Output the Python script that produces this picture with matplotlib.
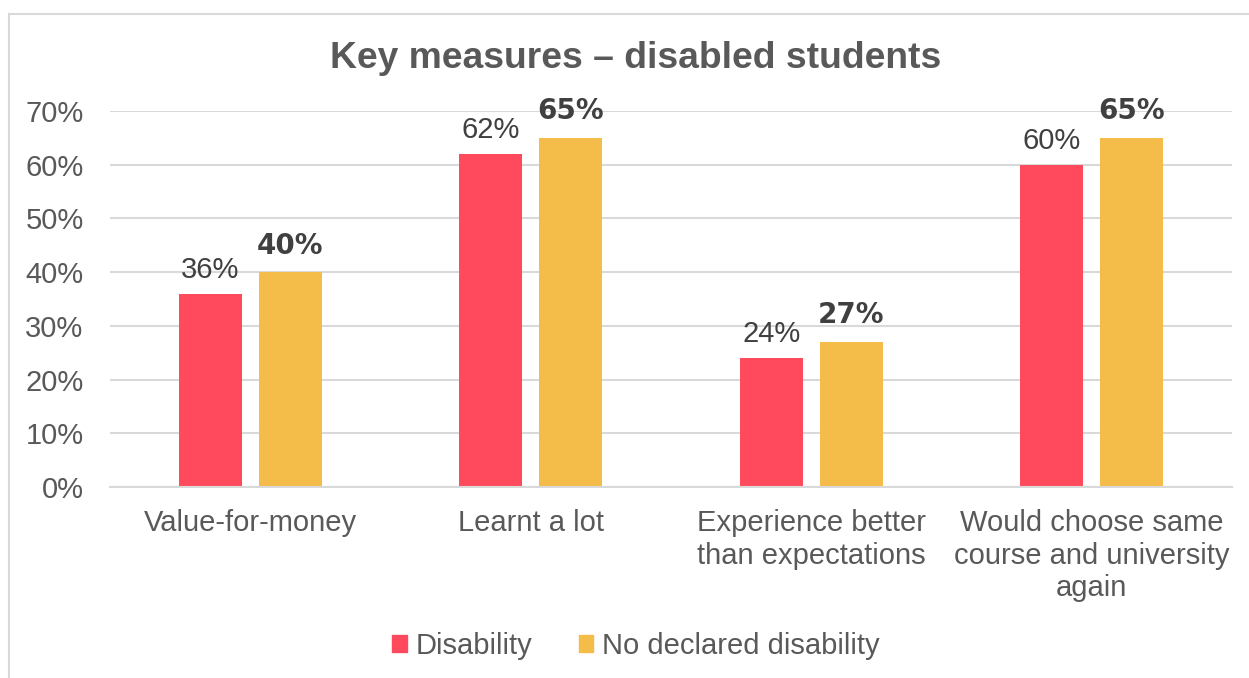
import matplotlib.pyplot as plt
from matplotlib.lines import Line2D
from matplotlib.patches import Patch
import numpy as np

categories = ['Value-for-money', 'Learnt a lot', 'Experience better\nthan expectations',
              'Would choose same\ncourse and university\nagain']
disability = [36, 62, 24, 60]
no_disability = [40, 65, 27, 65]
series_names = ['Disability', 'No declared disability']
red = '#FF4A5E'
yellow = '#F4BD4A'
grey_text = '#595959'

plt.rcParams['font.family'] = ['Liberation Sans', 'DejaVu Sans']

fig = plt.figure(figsize=(12.49, 6.78), dpi=100)
ax = fig.add_axes([110 / 1249, 191 / 678, 1122 / 1249, 376 / 678])

# outer chart frame (only left and top are visible in the picture)
fig.add_artist(Line2D([9 / 1249, 9 / 1249], [0, 1 - 14 / 678], transform=fig.transFigure,
                      color='#D9D9D9', lw=1.5))
fig.add_artist(Line2D([9 / 1249, 1], [1 - 14 / 678, 1 - 14 / 678], transform=fig.transFigure,
                      color='#D9D9D9', lw=1.5))

x = np.arange(len(categories))
w = 0.225
off = 0.1426
b1 = ax.bar(x - off, disability, w, color=red)
b2 = ax.bar(x + off, no_disability, w, color=yellow)

for rect, v in zip(b1, disability):
    ax.annotate(f'{v}%', (rect.get_x() + rect.get_width() / 2, v), xytext=(0, 7),
                textcoords='offset points', ha='center', va='bottom',
                fontsize=21, color='#404040')
for rect, v in zip(b2, no_disability):
    ax.annotate(f'{v}%', (rect.get_x() + rect.get_width() / 2, v), xytext=(0, 9),
                textcoords='offset points', ha='center', va='bottom',
                fontsize=20, color='#404040', fontweight='bold', family='DejaVu Sans')

ax.set_xlim(-0.5, len(categories) - 0.5)
ax.set_ylim(0, 70)
ax.set_yticks(range(0, 71, 10))
ax.set_yticklabels([f'{t}%' for t in range(0, 71, 10)])
ax.set_xticks(x)
ax.set_xticklabels(categories, linespacing=1.2)
ax.tick_params(axis='both', length=0, labelsize=21, labelcolor=grey_text)
ax.tick_params(axis='y', pad=19)
ax.tick_params(axis='x', pad=16)
ax.grid(axis='y', color='#D9D9D9', lw=1.5)
ax.set_axisbelow(True)
for s in ['left', 'right', 'top']:
    ax.spines[s].set_visible(False)
ax.spines['bottom'].set_color('#D9D9D9')
ax.spines['bottom'].set_linewidth(1.5)

fig.text(636 / 1249, 1 - 59 / 678, 'Key measures – disabled students', ha='center', va='center',
         fontsize=26.8, fontweight='bold', color=grey_text)

handles = [Patch(color=red), Patch(color=yellow)]
fig.legend(handles, series_names, loc='center', bbox_to_anchor=(636 / 1249, 1 - 646 / 678),
           ncol=2, frameon=False, fontsize=21, labelcolor=grey_text,
           handlelength=0.5, handleheight=0.5, handletextpad=0.3, columnspacing=1.6)

fig.savefig('out.png', dpi=100)
